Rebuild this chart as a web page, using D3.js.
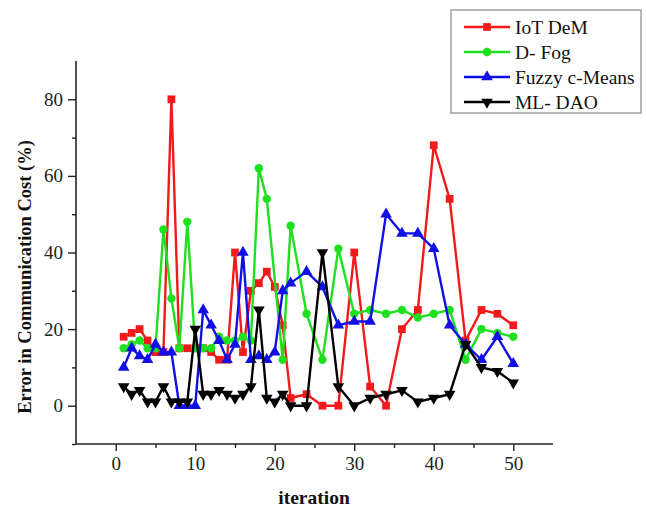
<!DOCTYPE html>
<html>
<head>
<meta charset="utf-8">
<script src="https://cdn.jsdelivr.net/npm/d3@7"></script>
<style>
  html, body { margin: 0; padding: 0; background: #fff; }
  svg { display: block; }
</style>
</head>
<body>
<svg id="chart" width="646" height="511"></svg>
<script>
// ---- Data ----
const seriesNames = ["IoT DeM", "D- Fog", "Fuzzy c-Means", "ML- DAO"];

const iotX = [1,2,3,4,5,6,7,8,9,10,11,12,13,14,15,16,17,18,19,20,21,22,24,26,28,30,32,34,36,38,40,42,44,46,48,50];
const iotY = [18,19,20,17,14,14,80,15,15,15,15,14,12,12,40,14,30,32,35,31,21,2,3,0,0,40,5,0,20,25,68,54,17,25,24,21];

const fogX = [1,2,3,4,5,6,7,8,9,10,11,12,13,14,15,16,17,18,19,21,22,24,26,28,30,32,34,36,38,40,42,44,46,48,50];
const fogY = [15,16,17,15,15,46,28,15,48,15,15,15,18,17,17,18,17,62,54,12,47,24,12,41,24,25,24,25,23,24,25,12,20,19,18];

const fcmX = [1,2,3,4,5,6,7,8,9,10,11,12,13,14,15,16,17,18,19,20,21,22,24,26,28,30,32,34,36,38,40,42,44,46,48,50];
const fcmY = [10,15,13,12,16,14,14,0,0,0,25,21,17,12,16,40,12,13,12,14,30,32,35,31,21,22,22,50,45,45,41,21,16,12,18,11];

const daoX = [1,2,3,4,5,6,7,8,9,10,11,12,13,14,15,16,17,18,19,20,21,22,24,26,28,30,32,34,36,38,40,42,44,46,48,50];
const daoY = [5,3,4,1,1,5,1,1,1,20,3,3,4,3,2,3,5,25,2,1,3,0,0,40,5,0,2,3,4,1,2,3,16,10,9,6];

const xTicks = [0,10,20,30,40,50];
const yTicks = [0,20,40,60,80];

// ---- Layout ----
const svg = d3.select("#chart");
const x = d3.scaleLinear().domain([-5, 55]).range([76, 553]);
const y = d3.scaleLinear().domain([-10, 90]).range([444, 61]);

const serif = "'Liberation Serif', 'Times New Roman', serif";

const series = [
  { name: seriesNames[0], xs: iotX, ys: iotY, color: "#f21a1a", shape: "square" },
  { name: seriesNames[1], xs: fogX, ys: fogY, color: "#1fe01f", shape: "circle" },
  { name: seriesNames[2], xs: fcmX, ys: fcmY, color: "#1010e6", shape: "triUp" },
  { name: seriesNames[3], xs: daoX, ys: daoY, color: "#000000", shape: "triDown" }
];

function symbolPath(shape) {
  if (shape === "square") return d3.symbol().type(d3.symbolSquare).size(60)();
  if (shape === "circle") return d3.symbol().type(d3.symbolCircle).size(56)();
  return d3.symbol().type(d3.symbolTriangle).size(58)();
}
function symbolTransform(shape, px, py) {
  if (shape === "triDown") return `translate(${px},${py}) rotate(180)`;
  return `translate(${px},${py})`;
}

// ---- Axes ----
const xAxis = d3.axisBottom(x).tickValues(xTicks).tickSize(7).tickPadding(6).tickFormat(d3.format("d"));
const xMinor = d3.axisBottom(x).tickValues([5,15,25,35,45]).tickSize(4).tickFormat("");
const yAxis = d3.axisLeft(y).tickValues(yTicks).tickSize(8).tickPadding(5).tickFormat(d3.format("d"));
const yMinor = d3.axisLeft(y).tickValues([-10,10,30,50,70]).tickSize(4).tickFormat("");

function styleAxis(g) {
  g.select(".domain").attr("stroke", "#222").attr("stroke-width", 1.6);
  g.selectAll(".tick line").attr("stroke", "#222").attr("stroke-width", 1.4);
  g.selectAll(".tick text").attr("font-family", serif).attr("font-size", "19px").attr("fill", "#222");
}

const gx = svg.append("g").attr("transform", `translate(0,${y(-10)})`).call(xAxis).call(styleAxis);
gx.select(".domain").attr("d", `M${x(-5)},0H${x(55)}`);
svg.append("g").attr("transform", `translate(0,${y(-10)})`).call(xMinor).call(styleAxis).select(".domain").remove();
const gy = svg.append("g").attr("transform", `translate(${x(-5)},0)`).call(yAxis).call(styleAxis);
gy.select(".domain").attr("d", `M0,${y(90)}V${y(-10)}`);
svg.append("g").attr("transform", `translate(${x(-5)},0)`).call(yMinor).call(styleAxis).select(".domain").remove();

// ---- Axis titles ----
svg.append("text")
  .attr("x", 314).attr("y", 504)
  .attr("text-anchor", "middle")
  .attr("font-family", serif).attr("font-weight", "bold").attr("font-size", "19.5px")
  .attr("fill", "#111")
  .text("iteration");

svg.append("text")
  .attr("transform", `translate(31,${277}) rotate(-90)`)
  .attr("text-anchor", "middle")
  .attr("font-family", serif).attr("font-weight", "bold").attr("font-size", "18.5px")
  .attr("fill", "#111")
  .text("Error in Communication Cost (%)");

// ---- Series ----
const line = d3.line().x(d => x(d[0])).y(d => y(d[1]));
series.forEach(s => {
  const pts = s.xs.map((xv, i) => [xv, s.ys[i]]);
  const g = svg.append("g");
  g.append("path")
    .attr("d", line(pts))
    .attr("fill", "none")
    .attr("stroke", s.color)
    .attr("stroke-width", 2.4)
    .attr("stroke-linejoin", "round");
  g.selectAll("path.m").data(pts).enter().append("path")
    .attr("class", "m")
    .attr("d", symbolPath(s.shape))
    .attr("transform", d => symbolTransform(s.shape, x(d[0]), y(d[1])))
    .attr("fill", s.color);
});

// ---- Legend ----
const lg = svg.append("g");
lg.append("rect")
  .attr("x", 451).attr("y", 10).attr("width", 190).attr("height", 103)
  .attr("fill", "#fff").attr("stroke", "#888").attr("stroke-width", 1.2);
series.forEach((s, i) => {
  const cy = 27 + i * 25;
  lg.append("line").attr("x1", 464).attr("x2", 510).attr("y1", cy).attr("y2", cy)
    .attr("stroke", s.color).attr("stroke-width", 2.4);
  lg.append("path").attr("d", symbolPath(s.shape))
    .attr("transform", symbolTransform(s.shape, 487, cy))
    .attr("fill", s.color);
  lg.append("text").attr("x", 515).attr("y", cy + 7)
    .attr("font-family", serif).attr("font-size", "19.5px").attr("fill", "#111")
    .text(s.name);
});
</script>
</body>
</html>
